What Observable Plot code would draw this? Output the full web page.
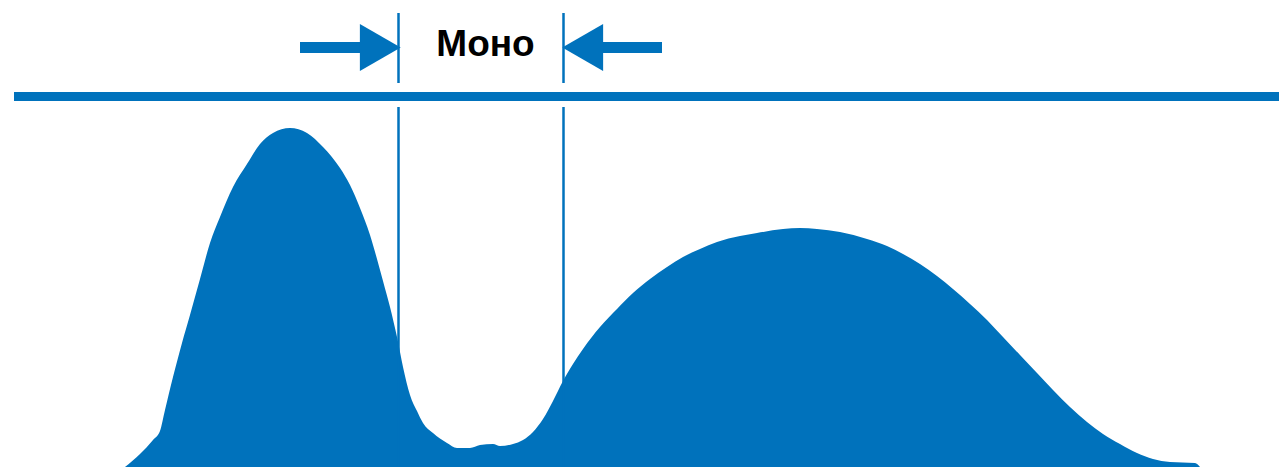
<!DOCTYPE html>
<html>
<head>
<meta charset="utf-8">
<script src="https://cdn.jsdelivr.net/npm/d3@7"></script>
<script src="https://cdn.jsdelivr.net/npm/@observablehq/plot@0.6"></script>
<style>
  html, body { margin: 0; padding: 0; background: #fff; }
  #chart svg { display: block; }
</style>
</head>
<body>
<div id="chart"></div>
<script>
// Distribution curve (x position, height above baseline)
const curveX = [125,140,153,160,165,173,182,190,200,210,220,233,247,260,273,290,307,323,340,350,360,370,377,383,390,397,403,410,417,423,433,447,457,470,480,493,500,513,523,533,543,553,563,573,583,600,617,633,650,667,683,700,717,740,757,783,800,817,840,867,887,903,920,937,953,970,987,1003,1020,1037,1053,1070,1087,1103,1120,1137,1153,1170,1195,1200];
const curveY = [0,13,27,36,57,90,124,152,188,224,250,280,303,323,334,339,334,320,299,282,259,232,208,186,160,130,100,72,56,44,34,24,19,19,22,23,21,23,27,35,48,66,86,103,118,140,158,174,188,200,210,218,225,231,234,238,239,238,235,228,221,213,203,191,178,163,147,130,112,94,77,60,45,33,23,14,8,5,4,0];

// Window boundaries and annotation
const markerX = [398, 563];
const labelText = ["Моно"];
const labelX = [485];
const arrowShafts = [{x1: 300, x2: 362}, {x1: 600, x2: 662}];
const arrowHeads = [{x: 373, rotate: 90}, {x: 589, rotate: -90}];

const blue = "#0072bc";
const curve = curveX.map((x, i) => ({x, y: curveY[i]}));

const chart = Plot.plot({
  width: 1279,
  height: 472,
  marginTop: 0,
  marginRight: 0,
  marginLeft: 0,
  marginBottom: 5,
  x: {domain: [0, 1279], axis: null},
  y: {domain: [0, 467], axis: null},
  marks: [
    Plot.areaY(curve, {x: "x", y: "y", fill: blue, curve: "monotone-x"}),
    Plot.ruleY([371], {x1: 14, x2: 1279, stroke: blue, strokeWidth: 9}),
    Plot.ruleX(markerX, {y1: 0, y2: 360, stroke: blue, strokeWidth: 2.5}),
    Plot.ruleX(markerX, {y1: 384, y2: 454, stroke: blue, strokeWidth: 2.5}),
    Plot.ruleY(arrowShafts, {y: () => 420, x1: "x1", x2: "x2", stroke: blue, strokeWidth: 11}),
    Plot.dot(arrowHeads, {x: "x", y: () => 420, r: 17.5, symbol: "triangle", fill: blue, stroke: "none", rotate: "rotate"}),
    Plot.text(labelText, {x: (d, i) => labelX[i], y: () => 423, text: d => d, fontSize: 37, fontWeight: "bold", fill: "#000", fontFamily: "Liberation Sans, Arial, sans-serif", textAnchor: "middle", lineAnchor: "middle"})
  ]
});
document.getElementById("chart").appendChild(chart);
</script>
</body>
</html>
